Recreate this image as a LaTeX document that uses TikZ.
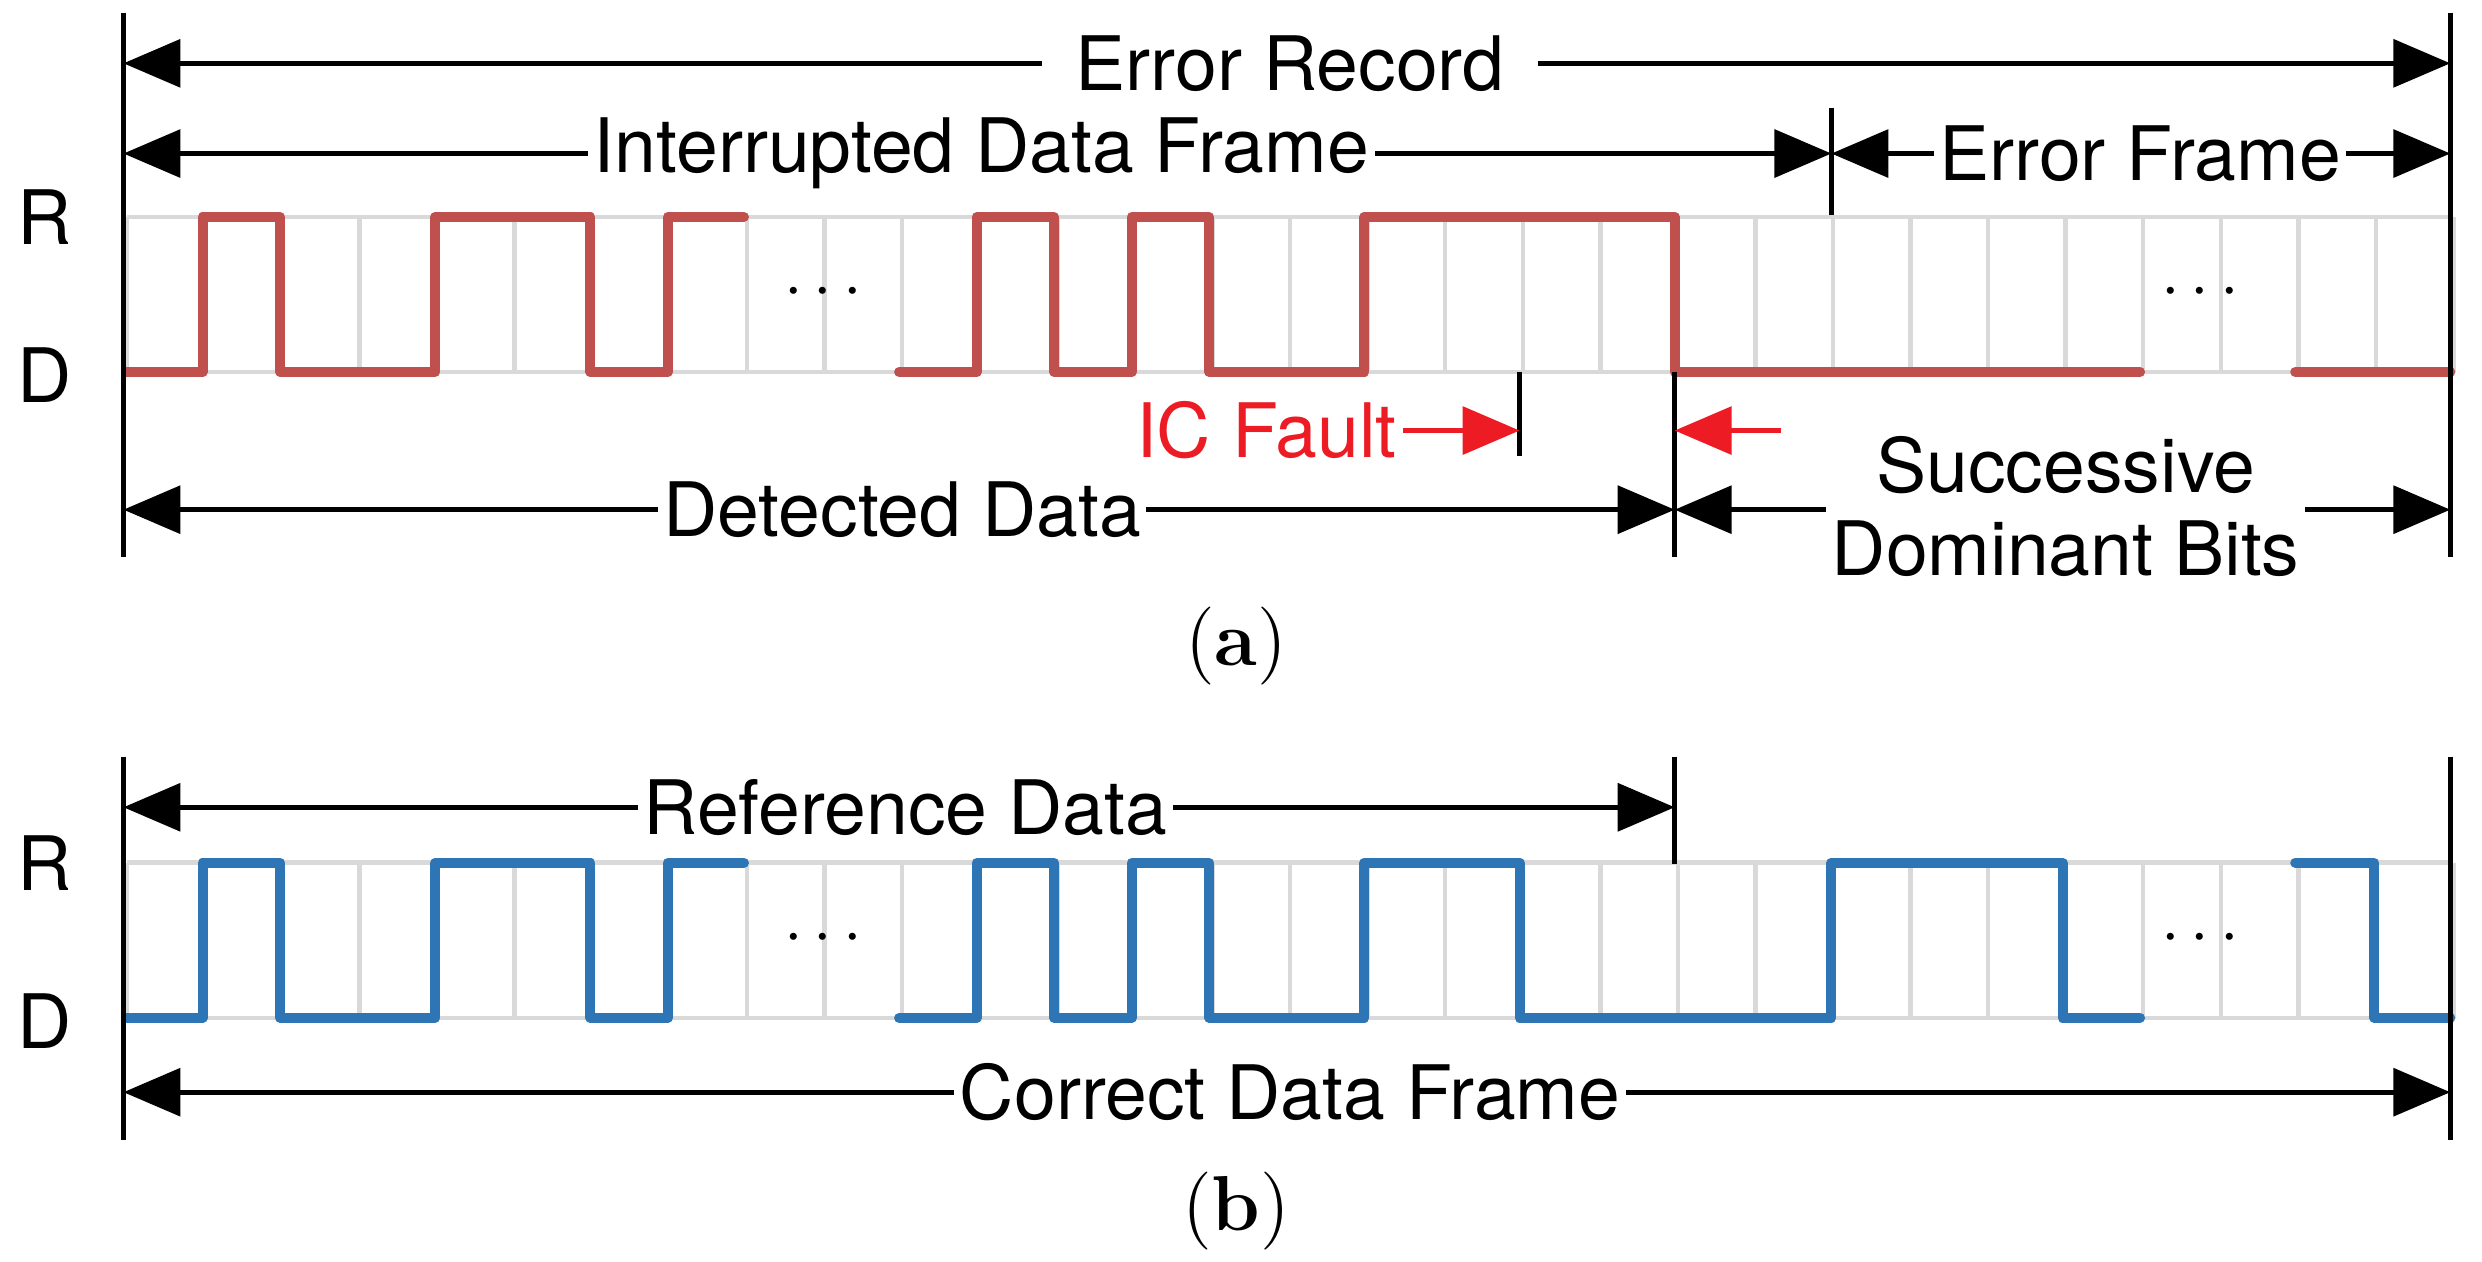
\documentclass[tikz,border=0pt]{standalone}
\usepackage{fontspec}
\setmainfont{TeX Gyre Heros}
\newfontfamily\lmr{Latin Modern Roman}
\usetikzlibrary{arrows.meta}
\definecolor{sigr}{RGB}{192,80,77}
\definecolor{sigb}{RGB}{46,117,182}
\definecolor{flt}{RGB}{237,28,36}
\begin{document}
\begin{tikzpicture}[x=0.01cm,y=-0.01cm,
  dim/.style={line width=0.9pt,{Triangle[length=0.36cm,width=0.3cm]}-{Triangle[length=0.36cm,width=0.3cm]}},
  onearr/.style={line width=0.9pt,-{Triangle[length=0.36cm,width=0.3cm]}},
  lbl/.style={fill=white,inner sep=1pt,font=\fontsize{13.5}{15}\selectfont},
  sig/.style={line width=1.8pt,line cap=round,line join=round},
  grid/.style={gray!30,line width=0.8pt},
  bar/.style={line width=0.9pt}]
\useasboundingbox (0,0) rectangle (1568,797);
% grids
\foreach \yr/\yd in {137/235,545/643}{
  \draw[grid] (80,\yr) -- (1548,\yr) (80,\yd) -- (1548,\yd);
  \foreach \k in {0,...,30}{\draw[grid] ({80+49*\k},\yr) -- ({80+49*\k},\yd);}
}
\node[font=\fontsize{13.5}{15}\selectfont] (r1) at (28,137) {R};
\node[font=\fontsize{13.5}{15}\selectfont] (d1) at (28,237) {D};
\node[font=\fontsize{13.5}{15}\selectfont] (r2) at (28,545) {R};
\node[font=\fontsize{13.5}{15}\selectfont] (d2) at (28,645) {D};
% red signal
\draw[sig,sigr] (80,235) -- (128,235) -- (128,137) -- (177,137) -- (177,235) -- (275,235) -- (275,137) -- (373,137) -- (373,235) -- (422,235) -- (422,137) -- (470,137);
\draw[sig,sigr] (568,235) -- (617,235) -- (617,137) -- (666,137) -- (666,235) -- (715,235) -- (715,137) -- (764,137) -- (764,235) -- (862,235) -- (862,137) -- (1058,137) -- (1058,235) -- (1352,235);
\draw[sig,sigr] (1450,235) -- (1548,235);
% blue signal
\draw[sig,sigb] (80,643) -- (128,643) -- (128,545) -- (177,545) -- (177,643) -- (275,643) -- (275,545) -- (373,545) -- (373,643) -- (422,643) -- (422,545) -- (470,545);
\draw[sig,sigb] (568,643) -- (617,643) -- (617,545) -- (666,545) -- (666,643) -- (715,643) -- (715,545) -- (764,545) -- (764,643) -- (862,643) -- (862,545) -- (960,545) -- (960,643) -- (1157,643) -- (1157,545) -- (1303,545) -- (1303,643) -- (1352,643);
\draw[sig,sigb] (1450,545) -- (1500,545) -- (1500,643) -- (1548,643);
\foreach \p/\q in {520/185,1390/185,520/593,1390/593}{\node[font=\fontsize{13}{15}\selectfont] at (\p,\q) {$\cdots$};}
% bars
\coordinate (L1t) at (78,8); \coordinate (L1b) at (78,352);
\coordinate (R1t) at (1548,8); \coordinate (R1b) at (1548,352);
\draw[bar] (L1t) -- (L1b); \draw[bar] (R1t) -- (R1b);
\draw[bar] (1058,235) -- (1058,352);
\draw[bar] (1157,68) -- (1157,136);
\draw[bar] (960,235) -- (960,288);
\draw[bar] (78,478) -- (78,720); \draw[bar] (1548,478) -- (1548,720);
\draw[bar] (1058,478) -- (1058,546);
% dimension arrows
\draw[dim] (78,40) -- (1548,40);
\node[lbl,inner xsep=6pt] (er) at (815,40) {Error Record};
\draw[dim] (78,97) -- (1157,97);
\node[lbl] (idf) at (620,97) {Interrupted Data Frame};
\draw[dim] (1157,97) -- (1548,97);
\node[lbl] (ef) at (1352,97) {Error Frame};
\draw[dim] (78,322) -- (1058,322);
\node[lbl] (dd) at (570,322) {Detected Data};
\draw[dim] (1058,322) -- (1548,322);
\node[lbl,align=center,font=\fontsize{13.5}{15}\selectfont] (sdb) at (1305,320) {Successive\\Dominant Bits};
\node[font=\fontsize{13.5}{15}\selectfont,text=flt,inner sep=1pt] (icf) at (800,272) {IC Fault};
\coordinate (icfe) at (960,272);
\draw[onearr,flt] (icf.east) -- (icfe);
\coordinate (sb) at (1125,272); \coordinate (se) at (1058,272);
\draw[onearr,flt] (sb) -- (se);
\draw[dim] (78,510) -- (1058,510);
\node[lbl] (rd) at (572,510) {Reference Data};
\draw[dim] (78,690) -- (1548,690);
\node[lbl] (cdf) at (815,690) {Correct Data Frame};
\node[font=\fontsize{14}{15}\selectfont\lmr] (a) at (781,408) {(\textbf{a})};
\node[font=\fontsize{14}{15}\selectfont\lmr] (b) at (781,765) {(\textbf{b})};
\end{tikzpicture}
\end{document}
